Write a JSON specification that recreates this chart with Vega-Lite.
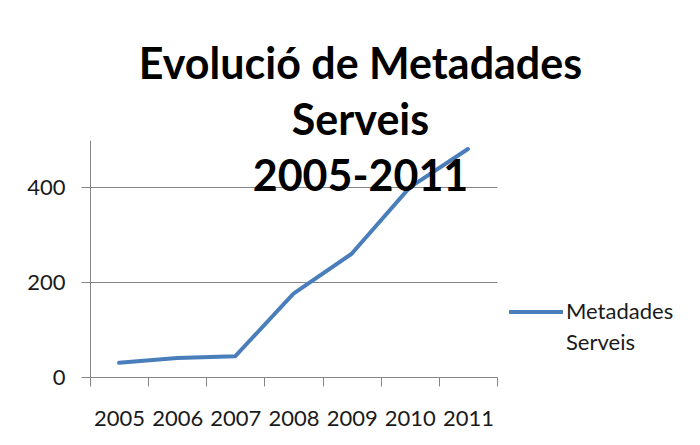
{
  "$schema": "https://vega.github.io/schema/vega-lite/v6.json",
  "autosize": "none",
  "width": 407,
  "height": 237,
  "padding": {"left": 90, "top": 140, "right": 203, "bottom": 68},
  "background": "white",
  "title": {
    "text": ["Evolució de Metadades", "Serveis", "2005-2011"],
    "font": "Lato",
    "fontSize": 43,
    "fontWeight": "bold",
    "color": "#000000",
    "lineHeight": 56,
    "anchor": "middle",
    "frame": "group",
    "baseline": "top",
    "dx": 67,
    "dy": 60,
    "offset": 0
  },
  "data": {
    "values": [
      {"year": "2005", "value": 30, "series": "Metadades Serveis"},
      {"year": "2006", "value": 40, "series": "Metadades Serveis"},
      {"year": "2007", "value": 44, "series": "Metadades Serveis"},
      {"year": "2008", "value": 176, "series": "Metadades Serveis"},
      {"year": "2009", "value": 260, "series": "Metadades Serveis"},
      {"year": "2010", "value": 400, "series": "Metadades Serveis"},
      {"year": "2011", "value": 481, "series": "Metadades Serveis"}
    ]
  },
  "mark": {"type": "line", "strokeWidth": 4, "strokeJoin": "round", "strokeCap": "round"},
  "encoding": {
    "x": {
      "field": "year",
      "type": "ordinal",
      "scale": {"paddingInner": 0, "paddingOuter": 0},
      "axis": {
        "title": null,
        "labelAngle": 0,
        "labelFont": "Lato",
        "labelFontSize": 22,
        "labelColor": "#1a1a1a",
        "labelPadding": 22,
        "tickBand": "extent",
        "tickSize": 9,
        "tickColor": "#868686",
        "tickWidth": 1,
        "domain": false,
        "grid": false
      }
    },
    "y": {
      "field": "value",
      "type": "quantitative",
      "scale": {"domain": [0, 500], "nice": false},
      "axis": {
        "title": null,
        "values": [0, 200, 400],
        "labelFont": "Lato",
        "labelFontSize": 22,
        "labelColor": "#1a1a1a",
        "labelPadding": 16,
        "tickSize": 9,
        "tickColor": "#868686",
        "domainColor": "#868686",
        "gridColor": "#868686",
        "grid": true
      }
    },
    "color": {
      "field": "series",
      "type": "nominal",
      "scale": {"range": ["#4a7ebb"]},
      "legend": {
        "title": null,
        "orient": "none",
        "legendX": 417,
        "legendY": 143,
        "padding": 0,
        "symbolType": "stroke",
        "symbolSize": 2916,
        "symbolStrokeWidth": 4,
        "labelFont": "Lato",
        "labelFontSize": 22,
        "labelColor": "#1a1a1a",
        "labelOffset": 1,
        "labelLimit": 200,
        "labelExpr": "['Metadades', 'Serveis']",
        "labelBaseline": "middle",
        "encode": {"labels": {"update": {"lineHeight": {"value": 31}}}}
      }
    }
  },
  "config": {"view": {"stroke": null}}
}
